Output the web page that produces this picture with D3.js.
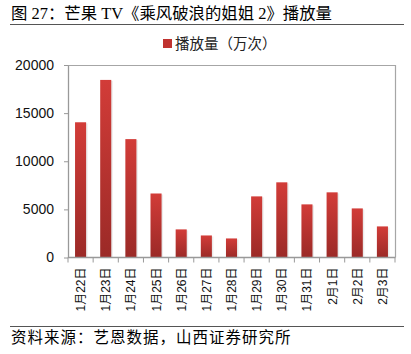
<!DOCTYPE html>
<html>
<head>
  <meta charset="utf-8" />
  <title>芒果 TV 播放量</title>
  <style>
    body {
      margin: 0;
      background: #fff;
    }
    svg {
      display: block;
    }
    .cn {
      font-family: "Liberation Serif", "Noto Sans CJK SC", serif;
    }
    .tick-y text {
      font-family: "Liberation Sans", Arial, sans-serif;
    }
  </style>
</head>
<body>
  <svg id="svg" width="411" height="354"></svg>

  <script src="https://d3js.org/d3.v7.min.js"></script>
  <script>
    const categories = ['1月22日', '1月23日', '1月24日', '1月25日', '1月26日', '1月27日', '1月28日',
      '1月29日', '1月30日', '1月31日', '2月1日', '2月2日', '2月3日']
    const plays = [14050, 18450, 12300, 6650, 2920, 2290, 1980, 6350, 7810, 5520, 6770, 5100, 3230]
    const yTicks = [0, 5000, 10000, 15000, 20000]

    const width = 411
    const height = 354
    const plot = { left: 68, right: 395, top: 65, bottom: 257.5 }

    const svg = d3.select('#svg')

    // gradient for the bars (light top, dark bottom)
    const defs = svg.append('defs')
    const grad = defs.append('linearGradient')
      .attr('id', 'bar-grad')
      .attr('x1', 0).attr('y1', 0).attr('x2', 0).attr('y2', 1)
    grad.append('stop').attr('offset', '0%').attr('stop-color', '#d23c38')
    grad.append('stop').attr('offset', '100%').attr('stop-color', '#9b2a27')

    // title
    svg.append('text')
      .attr('class', 'cn')
      .attr('x', 11)
      .attr('y', 19)
      .attr('font-size', 16.4)
      .attr('fill', '#000')
      .text('图 27：芒果 TV《乘风破浪的姐姐 2》播放量')

    svg.append('line')
      .attr('x1', 10).attr('x2', 404)
      .attr('y1', 24.5).attr('y2', 24.5)
      .attr('stroke', '#555').attr('stroke-width', 1)

    // legend
    svg.append('rect')
      .attr('x', 163).attr('y', 39)
      .attr('width', 9).attr('height', 9)
      .attr('fill', '#c0322f')
    svg.append('text')
      .attr('x', 175)
      .attr('y', 49)
      .attr('font-family', '"Noto Sans CJK SC", sans-serif')
      .attr('font-size', 14.5)
      .attr('fill', '#222')
      .text('播放量（万次）')

    const x = d3.scaleBand()
      .domain(categories)
      .range([plot.left, plot.right])
      .paddingInner(0.56)
      .paddingOuter(0.28)

    const y = d3.scaleLinear()
      .domain([0, 20000])
      .range([plot.bottom, plot.top])

    // frame: top and right border
    svg.append('path')
      .attr('d', `M${plot.left},${plot.top + 0.5}H${plot.right + 0.5}V${plot.bottom}`)
      .attr('fill', 'none')
      .attr('stroke', '#a6a6a6')
      .attr('stroke-width', 1.2)

    // bar shadows
    svg.append('g')
      .selectAll('rect')
      .data(plays)
      .join('rect')
      .attr('x', (d, i) => x(categories[i]) + 1.5)
      .attr('y', d => y(d) + 1)
      .attr('width', x.bandwidth())
      .attr('height', d => plot.bottom - y(d) - 1)
      .attr('fill', '#000')
      .attr('opacity', 0.08)

    // bars
    svg.append('g')
      .selectAll('rect')
      .data(plays)
      .join('rect')
      .attr('x', (d, i) => x(categories[i]))
      .attr('y', d => y(d))
      .attr('width', x.bandwidth())
      .attr('height', d => plot.bottom - y(d))
      .attr('fill', 'url(#bar-grad)')

    // y axis
    const yAxis = svg.append('g')
      .attr('class', 'tick-y')
      .attr('transform', `translate(${plot.left},0)`)
      .call(d3.axisLeft(y).tickValues(yTicks).tickFormat(d3.format('d'))
        .tickSize(4).tickSizeOuter(0).tickPadding(10))
    yAxis.select('.domain').attr('stroke', '#999').attr('stroke-width', 1.3)
    yAxis.selectAll('.tick line').attr('stroke', '#999')
    yAxis.selectAll('.tick text')
      .attr('font-size', 14)
      .attr('fill', '#111')

    // x axis: ticks between categories
    const xAxis = svg.append('g')
      .attr('transform', `translate(0,${plot.bottom})`)
    xAxis.append('line')
      .attr('x1', plot.left).attr('x2', plot.right + 0.5)
      .attr('stroke', '#999').attr('stroke-width', 1.3)
    const bounds = d3.range(categories.length + 1).map(i => plot.left + i * (plot.right - plot.left) / categories.length)
    xAxis.selectAll('line.sep')
      .data(bounds)
      .join('line')
      .attr('class', 'sep')
      .attr('x1', d => d).attr('x2', d => d)
      .attr('y1', 0).attr('y2', 5)
      .attr('stroke', '#999')

    xAxis.selectAll('text')
      .data(categories)
      .join('text')
      .attr('transform', d => `translate(${x(d) + x.bandwidth() / 2 + 4.5},10) rotate(-90)`)
      .attr('text-anchor', 'end')
      .attr('font-family', '"Liberation Sans", "Noto Sans CJK SC", sans-serif')
      .attr('font-size', 12)
      .attr('fill', '#111')
      .text(d => d)

    // footer
    svg.append('line')
      .attr('x1', 10).attr('x2', 404)
      .attr('y1', 326.5).attr('y2', 326.5)
      .attr('stroke', '#555').attr('stroke-width', 1)

    svg.append('text')
      .attr('x', 11)
      .attr('y', 343)
      .attr('font-family', '"Noto Sans CJK SC", sans-serif')
      .attr('font-size', 15.5)
      .attr('letter-spacing', 1)
      .attr('fill', '#000')
      .text('资料来源：艺恩数据，山西证券研究所')
  </script>
</body>
</html>
